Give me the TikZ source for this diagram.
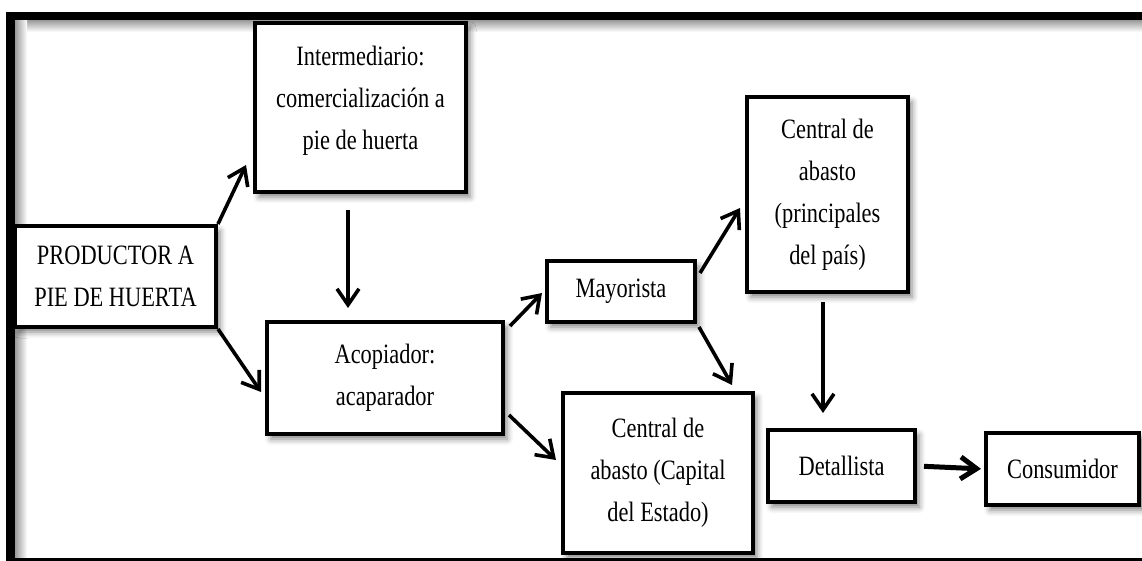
\documentclass[tikz,border=0pt]{standalone}
\usepackage{fontspec}
\setmainfont{Liberation Serif}[FakeStretch=0.8]
\usepackage{tikz}
\usetikzlibrary{arrows.meta,shadows.blur}
\tikzset{every picture/.style={line width=0.7pt}}
\tikzset{caja/.style={draw, line width=2pt, fill=white, align=center, inner sep=1pt,
    font=\fontsize{14pt}{21pt}\selectfont,
    blur shadow={shadow xshift=2pt, shadow yshift=-2.5pt, shadow blur radius=3pt, shadow opacity=50}},
  flecha/.style={line width=1.8pt, -{Straight Barb[length=8pt,width=11pt]}}}

\begin{document}
\begin{tikzpicture}[x=0.5pt,y=-0.5pt]
\useasboundingbox (0,0) rectangle (1142,561);

%Shape: Frame shadow
\shade[top color=black!40, bottom color=white] (15,20) rectangle (1142,32);
\shade[left color=black!40, right color=white] (15,20) rectangle (27,561);
%Shape: Frame
\draw[line width=4.25pt] (10.5,16) rectangle (1160,562);

%Shape: Rectangle
\node[caja, minimum width=100.5pt, minimum height=50.5pt] (prod) at (115.5,276.5) {PRODUCTOR A\\PIE DE HUERTA};
%Shape: Rectangle
\node[caja, minimum width=105.5pt, minimum height=84.5pt] (inter) at (360.5,107.5) {Intermediario:\\comercialización a\\pie de huerta\\[-11pt]};
%Shape: Rectangle
\node[caja, minimum width=118pt, minimum height=56pt] (acop) at (385,378) {Acopiador:\\acaparador};
%Shape: Rectangle
\node[caja, minimum width=74pt, minimum height=30.5pt] (mayor) at (621,291.5) {Mayorista};
%Shape: Rectangle
\node[caja, minimum width=80.5pt, minimum height=97.5pt] (cprin) at (827.5,194.5) {Central de\\abasto\\(principales\\del país)};
%Shape: Rectangle
\node[caja, minimum width=95pt, minimum height=80pt] (ccap) at (658,473) {Central de\\abasto (Capital\\del Estado)};
%Shape: Rectangle
\node[caja, minimum width=73.5pt, minimum height=36pt] (detal) at (841.5,466) {Detallista};
%Shape: Rectangle
\node[caja, minimum width=76.5pt, minimum height=36pt] (consu) at (1062.5,469) {Consumidor};

\coordinate (i1) at ([xshift=-6.25pt,yshift=-8pt]inter.south);
\coordinate (c1) at ([xshift=-2.25pt,yshift=-4pt]cprin.south);

%Straight Lines
\draw[flecha] (prod.north east) -- ([xshift=-3.5pt,yshift=14.5pt]inter.south west);
\draw[flecha] (prod.south east) -- ([xshift=-2pt,yshift=-7pt]acop.west);
\draw[flecha] (i1) -- ([yshift=6pt]i1 |- acop.north);
\draw[flecha] ([xshift=2.5pt,yshift=-3pt]acop.north east) -- ([xshift=-1.5pt,yshift=-0.75pt]mayor.west);
\draw[flecha] ([xshift=2pt,yshift=10.5pt]acop.south east) -- ([xshift=-2.5pt,yshift=6.5pt]ccap.west);
\draw[flecha] ([xshift=1.5pt,yshift=-7pt]mayor.north east) -- ([xshift=-2.5pt,yshift=-6.75pt]cprin.west);
\draw[flecha] ([xshift=1pt,yshift=-1.5pt]mayor.south east) -- ([xshift=-11.5pt,yshift=3pt]ccap.north east);
\draw[flecha] (c1) -- ([yshift=7.5pt]c1 |- detal.north);
\draw[flecha, line width=2.5pt, shorten <=3.5pt, shorten >=1.5pt] (detal.east) -- (consu.west);

\end{tikzpicture}
\end{document}
